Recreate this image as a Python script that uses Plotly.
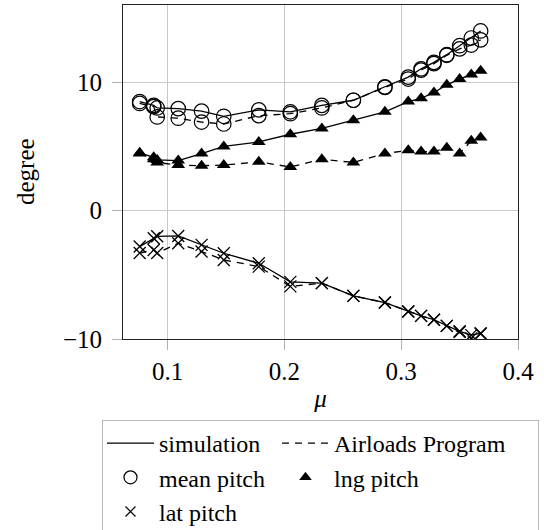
import plotly.graph_objects as go

mu = [0.076, 0.088, 0.091, 0.109, 0.129, 0.148, 0.178, 0.205, 0.232, 0.259,
      0.286, 0.306, 0.317, 0.328, 0.339, 0.350, 0.360, 0.368]

sim_mean = [8.5, 8.2, 8.0, 7.95, 7.75, 7.35, 7.85, 7.7, 8.2, 8.6,
            9.65, 10.4, 11.05, 11.55, 12.15, 12.85, 13.45, 14.0]
air_mean = [8.35, 8.1, 7.3, 7.2, 6.9, 6.75, 7.4, 7.55, 8.0, 8.6,
            9.6, 10.25, 10.95, 11.45, 12.1, 12.6, 12.9, 13.3]

sim_lng = [4.5, 4.15, 3.95, 3.9, 4.45, 5.0, 5.35, 5.95, 6.4, 7.05,
           7.7, 8.5, 8.75, 9.2, 9.8, 10.25, 10.6, 10.9]
air_lng = [4.45, 4.0, 3.75, 3.55, 3.5, 3.55, 3.8, 3.4, 4.0, 3.75,
           4.45, 4.7, 4.6, 4.6, 4.9, 4.45, 5.45, 5.7]

sim_lat = [-2.8, -2.15, -2.0, -1.97, -2.67, -3.32, -4.1, -5.55, -5.65, -6.64,
           -7.16, -7.86, -8.2, -8.5, -8.98, -9.4, -9.7, -9.55]
air_lat = [-3.3, -3.06, -3.3, -2.54, -3.19, -3.84, -4.36, -5.9, -5.65, -6.64,
           -7.16, -7.86, -8.2, -8.5, -8.98, -9.45, -9.95, -9.6]

x_ticks = [0.1, 0.2, 0.3, 0.4]
x_ticktext = ["0.1", "0.2", "0.3", "0.4"]
y_ticks = [-10, 0, 10]

FONT = "Liberation Serif, Times New Roman, serif"
DASH = "7px,6px"

circle = dict(symbol="circle-open", size=14.5, color="black", line=dict(width=1.2, color="black"))
tri = dict(symbol="triangle-up", size=12, color="black", line=dict(width=0))
cross = dict(symbol="x-thin-open", size=12, color="black", line=dict(width=1.3, color="black"))

fig = go.Figure()

series = [
    (sim_mean, "solid", circle),
    (air_mean, DASH, circle),
    (sim_lng, "solid", tri),
    (air_lng, DASH, tri),
    (sim_lat, "solid", cross),
    (air_lat, DASH, cross),
]
for ys, dash, mk in series:
    fig.add_trace(go.Scatter(
        x=mu, y=ys, mode="lines+markers",
        line=dict(color="black", width=1.3, dash=dash),
        marker=mk, showlegend=False, hoverinfo="skip"))

W1, W2 = 113, 199
fig.add_trace(go.Scatter(x=[None], y=[None], mode="lines", name="simulation",
                         line=dict(color="black", width=1.3), legendgroup="A", legendwidth=W1))
fig.add_trace(go.Scatter(x=[None], y=[None], mode="lines", name="Airloads Program",
                         line=dict(color="black", width=1.3, dash=DASH), legendgroup="B", legendwidth=W2))
fig.add_trace(go.Scatter(x=[None], y=[None], mode="markers", name="mean pitch",
                         marker=dict(symbol="circle-open", size=13, color="black", line=dict(width=1.2)),
                         legendgroup="A", legendwidth=W1))
fig.add_trace(go.Scatter(x=[None], y=[None], mode="markers", name="lng pitch",
                         marker=dict(symbol="triangle-up", size=11, color="black"),
                         legendgroup="B", legendwidth=W2))
fig.add_trace(go.Scatter(x=[None], y=[None], mode="markers", name="lat pitch",
                         marker=dict(symbol="x-thin-open", size=10, color="black", line=dict(width=1.2)),
                         legendgroup="A", legendwidth=W1))

axis_common = dict(
    showline=True, linecolor="#222", linewidth=1, mirror=True,
    showgrid=True, gridcolor="#c8c8c8", gridwidth=1,
    zeroline=False, ticks="outside", ticklen=10, tickcolor="#b0b0b0", tickwidth=1,
    tickfont=dict(family=FONT, size=25, color="black"),
)

fig.update_layout(
    width=544, height=530,
    margin=dict(l=123, r=26, t=5, b=191, autoexpand=False),
    paper_bgcolor="white", plot_bgcolor="white",
    font=dict(family=FONT, size=25, color="black"),
    xaxis=dict(range=[0.0617, 0.4], tickvals=x_ticks, ticktext=x_ticktext,
               title=dict(text="<i>μ</i>", font=dict(family=FONT, size=25), standoff=5),
               **axis_common),
    yaxis=dict(range=[-10, 16.02], tickvals=y_ticks, ticklabelstandoff=5,
               **axis_common),
    annotations=[dict(text="degree", textangle=-90, xref="paper", yref="paper",
                      x=(25 - 123) / 395, y=0.5, xanchor="center", yanchor="middle",
                      showarrow=False, font=dict(family=FONT, size=25, color="black"))],
    legend=dict(
        orientation="h", traceorder="grouped", itemwidth=47,
        x=(102 - 123) / 395, xanchor="left", y=-(420 - 339) / 334, yanchor="top",
        bordercolor="#b8b8b8", borderwidth=1, bgcolor="white",
        font=dict(family=FONT, size=24, color="black"),
        tracegroupgap=0,
    ),
)

fig.write_html("out.html")
